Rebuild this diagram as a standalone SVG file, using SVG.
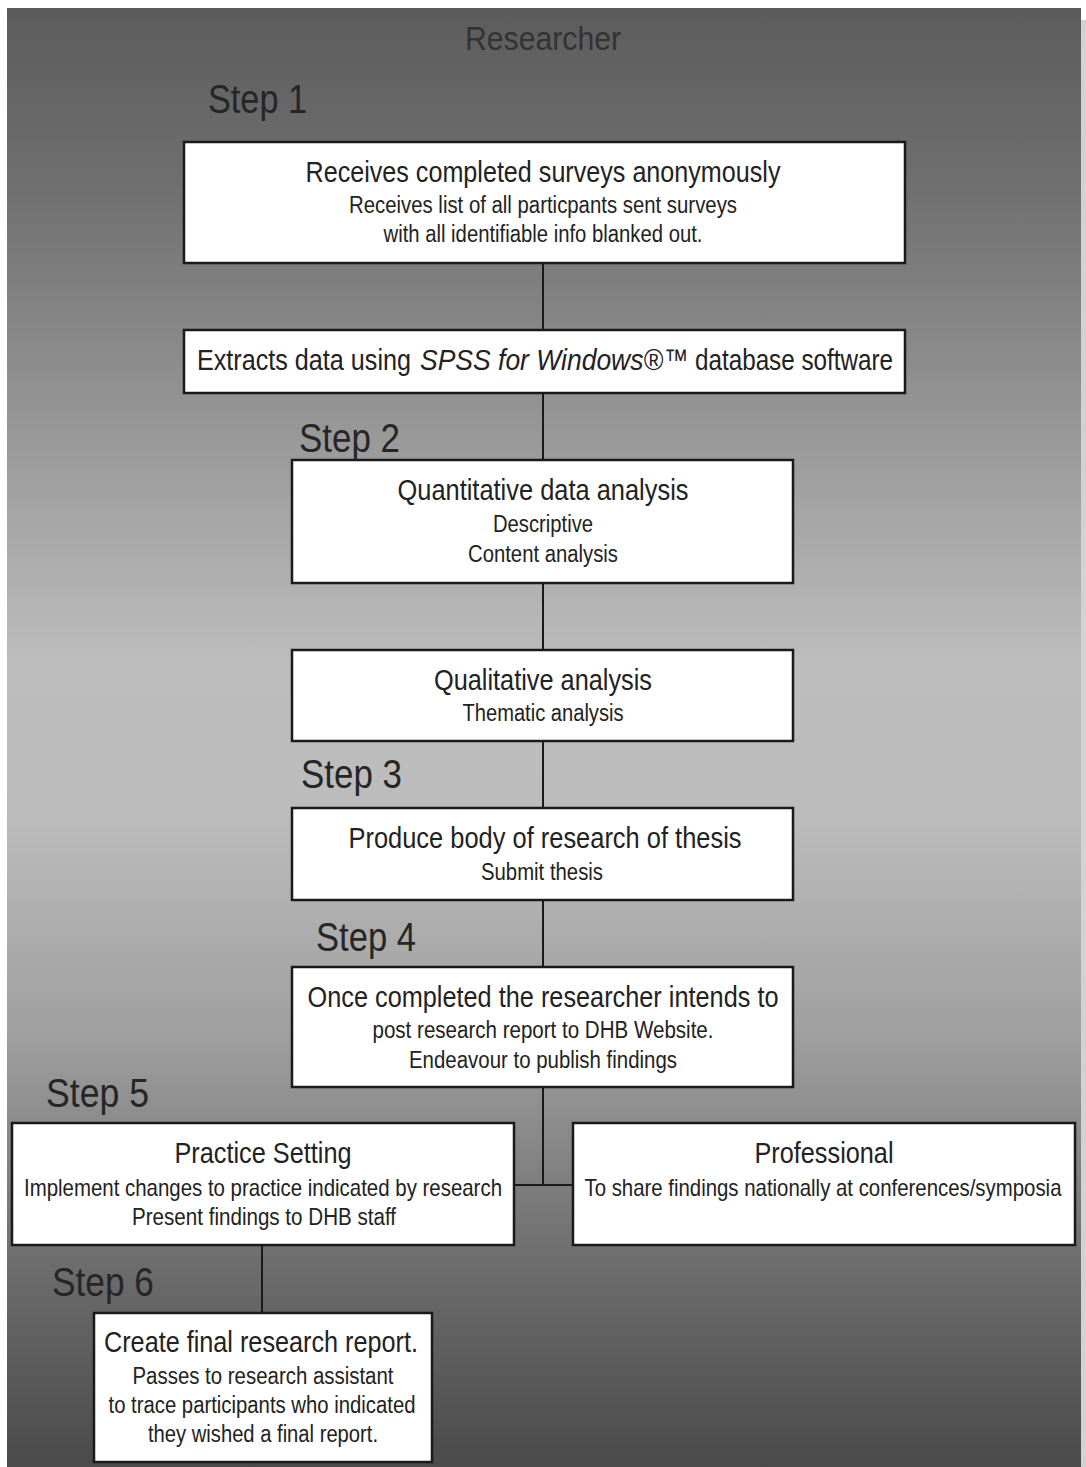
<svg xmlns="http://www.w3.org/2000/svg" width="1086" height="1467" viewBox="0 0 1086 1467">
  <defs>
    <linearGradient id="panelShade" x1="0" y1="0" x2="0" y2="1">
      <stop offset="0" stop-color="#5c5c5c"/>
      <stop offset="0.12" stop-color="#6f6f6f"/>
      <stop offset="0.3" stop-color="#9a9a9a"/>
      <stop offset="0.45" stop-color="#bdbdbd"/>
      <stop offset="0.55" stop-color="#bcbcbc"/>
      <stop offset="0.7" stop-color="#a0a0a0"/>
      <stop offset="0.85" stop-color="#707070"/>
      <stop offset="1" stop-color="#4a4a4a"/>
    </linearGradient>
    <style>
      .box { fill: #ffffff; stroke: #1a1a1a; stroke-width: 2.5; }
      .wire { fill: none; stroke: #1a1a1a; stroke-width: 2; }
      text { font-family: "Liberation Sans", Arial, sans-serif; fill: #222222; text-anchor: middle; }
      .title { font-size: 30px; }
      .sub { font-size: 23px; }
      .left { text-anchor: start; }
      .step { font-size: 40px; text-anchor: start; fill: #262626; }
      .head { font-size: 33px; fill: #333333; }
    </style>
  </defs>

  <!-- page and shaded panel -->
  <rect x="0" y="0" width="1086" height="1467" fill="#ffffff"/>
  <rect x="1081" y="20" width="5" height="1447" fill="#d2d2d2"/>
  <rect x="7" y="8" width="1074" height="1459" fill="url(#panelShade)"/>

  <text class="head" x="543" y="50" textLength="156" lengthAdjust="spacingAndGlyphs">Researcher</text>

  <!-- step labels -->
  <text class="step" x="208" y="113" textLength="99" lengthAdjust="spacingAndGlyphs">Step 1</text>
  <text class="step" x="299" y="452" textLength="101" lengthAdjust="spacingAndGlyphs">Step 2</text>
  <text class="step" x="301" y="788" textLength="101" lengthAdjust="spacingAndGlyphs">Step 3</text>
  <text class="step" x="316" y="951" textLength="100" lengthAdjust="spacingAndGlyphs">Step 4</text>
  <text class="step" x="46" y="1107" textLength="103" lengthAdjust="spacingAndGlyphs">Step 5</text>
  <text class="step" x="52" y="1296" textLength="102" lengthAdjust="spacingAndGlyphs">Step 6</text>

  <!-- connectors -->
  <g id="connectors">
    <line class="wire" x1="543" y1="263" x2="543" y2="330"/>
    <line class="wire" x1="543" y1="393" x2="543" y2="460"/>
    <line class="wire" x1="543" y1="583" x2="543" y2="650"/>
    <line class="wire" x1="543" y1="741" x2="543" y2="808"/>
    <line class="wire" x1="543" y1="900" x2="543" y2="967"/>
    <polyline class="wire" points="543,1087 543,1185"/>
    <line class="wire" x1="514" y1="1185" x2="573" y2="1185"/>
    <line class="wire" x1="262" y1="1245" x2="262" y2="1313"/>
  </g>

  <g id="receive-surveys">
    <rect class="box" x="184" y="142" width="721" height="121"/>
    <text class="title" x="543" y="182" textLength="475" lengthAdjust="spacingAndGlyphs">Receives completed surveys anonymously</text>
    <text class="sub" x="543" y="213" textLength="388" lengthAdjust="spacingAndGlyphs">Receives list of all particpants sent surveys</text>
    <text class="sub" x="543" y="242" textLength="319" lengthAdjust="spacingAndGlyphs">with all identifiable info blanked out.</text>
  </g>

  <!-- the product name is set in italics; each run is narrowed horizontally -->
  <g id="extract-data">
    <rect class="box" x="184" y="330" width="721" height="63"/>
    <text class="title left" transform="scale(0.84,1)" x="234.5" y="370" textLength="254.8" lengthAdjust="spacingAndGlyphs">Extracts data using</text>
    <text class="title left" transform="scale(0.88,1)" x="477.3" y="370" font-style="italic" textLength="276.1" lengthAdjust="spacingAndGlyphs">SPSS for Windows®</text>
    <text class="title left" transform="scale(0.81,1)" x="819.8" y="370" textLength="282.7" lengthAdjust="spacingAndGlyphs">™ database software</text>
  </g>

  <g id="quantitative">
    <rect class="box" x="292" y="460" width="501" height="123"/>
    <text class="title" x="543" y="500" textLength="291" lengthAdjust="spacingAndGlyphs">Quantitative data analysis</text>
    <text class="sub" x="543" y="532" textLength="100" lengthAdjust="spacingAndGlyphs">Descriptive</text>
    <text class="sub" x="543" y="562" textLength="150" lengthAdjust="spacingAndGlyphs">Content analysis</text>
  </g>

  <g id="qualitative">
    <rect class="box" x="292" y="650" width="501" height="91"/>
    <text class="title" x="543" y="690" textLength="218" lengthAdjust="spacingAndGlyphs">Qualitative analysis</text>
    <text class="sub" x="543" y="721" textLength="161" lengthAdjust="spacingAndGlyphs">Thematic analysis</text>
  </g>

  <g id="thesis">
    <rect class="box" x="292" y="808" width="501" height="92"/>
    <text class="title" x="545" y="848" textLength="393" lengthAdjust="spacingAndGlyphs">Produce body of research of thesis</text>
    <text class="sub" x="542" y="880" textLength="122" lengthAdjust="spacingAndGlyphs">Submit thesis</text>
  </g>

  <g id="publish">
    <rect class="box" x="292" y="967" width="501" height="120"/>
    <text class="title" x="543" y="1007" textLength="471" lengthAdjust="spacingAndGlyphs">Once completed the researcher intends to</text>
    <text class="sub" x="543" y="1038" textLength="341" lengthAdjust="spacingAndGlyphs">post research report to DHB Website.</text>
    <text class="sub" x="543" y="1068" textLength="268" lengthAdjust="spacingAndGlyphs">Endeavour to publish findings</text>
  </g>

  <g id="practice-setting">
    <rect class="box" x="12" y="1123" width="502" height="122"/>
    <text class="title" x="263" y="1163" textLength="177" lengthAdjust="spacingAndGlyphs">Practice Setting</text>
    <text class="sub" transform="scale(0.85,1)" x="309.4" y="1196" textLength="562.4" lengthAdjust="spacingAndGlyphs">Implement changes to practice indicated by research</text>
    <text class="sub" x="264" y="1225" textLength="264" lengthAdjust="spacingAndGlyphs">Present findings to DHB staff</text>
  </g>

  <g id="professional">
    <rect class="box" x="573" y="1123" width="502" height="122"/>
    <text class="title" x="824" y="1163" textLength="139" lengthAdjust="spacingAndGlyphs">Professional</text>
    <text class="sub" transform="scale(0.85,1)" x="968.2" y="1196" textLength="561.2" lengthAdjust="spacingAndGlyphs">To share findings nationally at conferences/symposia</text>
  </g>

  <g id="final-report">
    <rect class="box" x="94" y="1313" width="338" height="149"/>
    <text class="title" x="261" y="1352" textLength="314" lengthAdjust="spacingAndGlyphs">Create final research report.</text>
    <text class="sub" x="263" y="1384" textLength="261" lengthAdjust="spacingAndGlyphs">Passes to research assistant</text>
    <text class="sub" x="262" y="1413" textLength="307" lengthAdjust="spacingAndGlyphs">to trace participants who indicated</text>
    <text class="sub" x="263" y="1442" textLength="230" lengthAdjust="spacingAndGlyphs">they wished a final report.</text>
  </g>
</svg>
